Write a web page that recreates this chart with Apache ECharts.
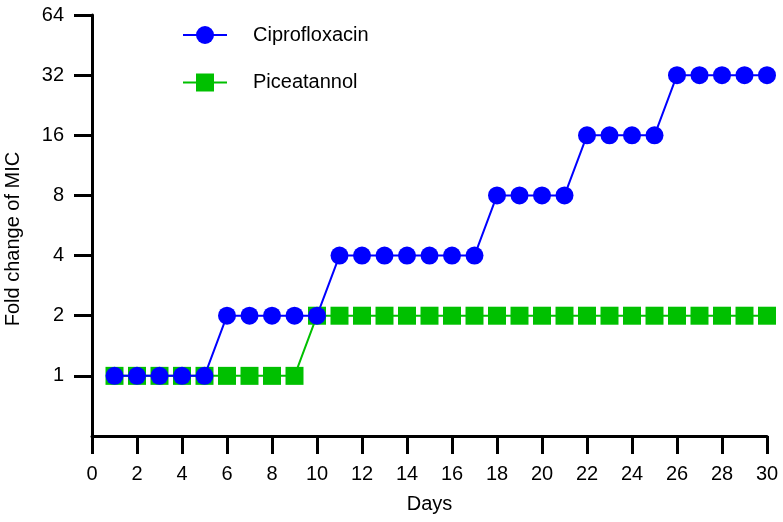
<!DOCTYPE html>
<html>
<head>
<meta charset="utf-8">
<script src="https://cdn.jsdelivr.net/npm/echarts@6/dist/echarts.min.js"></script>
<style>
html,body{margin:0;padding:0;background:#fff;}
#chart{width:783px;height:522px;}
</style>
</head>
<body>
<div id="chart"></div>
<script>
var days = [1,2,3,4,5,6,7,8,9,10,11,12,13,14,15,16,17,18,19,20,21,22,23,24,25,26,27,28,29,30];
var ciprofloxacin = [1,1,1,1,1,2,2,2,2,2,4,4,4,4,4,4,4,8,8,8,8,16,16,16,16,32,32,32,32,32];
var piceatannol = [1,1,1,1,1,1,1,1,1,2,2,2,2,2,2,2,2,2,2,2,2,2,2,2,2,2,2,2,2,2];
var yTicks = [1,2,4,8,16,32,64];
var xTicks = [0,2,4,6,8,10,12,14,16,18,20,22,24,26,28,30];

function pairs(vals){ return days.map(function(d,i){ return [d, vals[i]]; }); }

var font = 'Liberation Sans, Arial, sans-serif';
var chart = echarts.init(document.getElementById('chart'), null, {renderer:'canvas'});
chart.setOption({
  animation:false,
  backgroundColor:'#ffffff',
  grid:{left:92,right:16,top:15,bottom:86,containLabel:false},
  legend:{
    orient:'vertical', left:177, top:20,
    itemWidth:44, itemHeight:22.5, itemGap:27.5,
    data:['Ciprofloxacin','Piceatannol'],
    textStyle:{fontFamily:font,fontSize:20,color:'#000',padding:[0,0,0,21]}
  },
  xAxis:{
    type:'value', min:0, max:30, interval:2,
    name:'Days', nameLocation:'middle', nameGap:58,
    nameTextStyle:{fontFamily:font,fontSize:20,color:'#000'},
    axisLine:{lineStyle:{color:'#000',width:3}},
    axisTick:{inside:false,length:18,lineStyle:{color:'#000',width:3}},
    axisLabel:{fontFamily:font,fontSize:20,color:'#000',margin:28,
      customValues: xTicks},
    splitLine:{show:false}
  },
  yAxis:{
    type:'log', logBase:2, min:0.5, max:64,
    axisLine:{onZero:false,lineStyle:{color:'#000',width:3}},
    axisTick:{length:18,lineStyle:{color:'#000',width:3},customValues:yTicks},
    axisLabel:{fontFamily:font,fontSize:20,color:'#000',margin:28,customValues:yTicks,
      formatter:function(v){ return v < 1 ? '' : String(Math.round(v)); }},
    splitLine:{show:false},
    minorTick:{show:false}
  },
  graphic:[{
    type:'text', x:13, y:239, rotation:Math.PI/2,
    style:{text:'Fold change of MIC', font:'20px Liberation Sans, Arial, sans-serif', fill:'#000', textAlign:'center', textVerticalAlign:'middle'}
  }],
  series:[
    {
      name:'Piceatannol', type:'line', data:pairs(piceatannol),
      symbol:'rect', symbolSize:18, z:2,
      lineStyle:{color:'#00c000',width:2},
      itemStyle:{color:'#00c000'}
    },
    {
      name:'Ciprofloxacin', type:'line', data:pairs(ciprofloxacin),
      symbol:'circle', symbolSize:18, z:3,
      lineStyle:{color:'#0000ff',width:2},
      itemStyle:{color:'#0000ff'}
    }
  ]
});
</script>
</body>
</html>
